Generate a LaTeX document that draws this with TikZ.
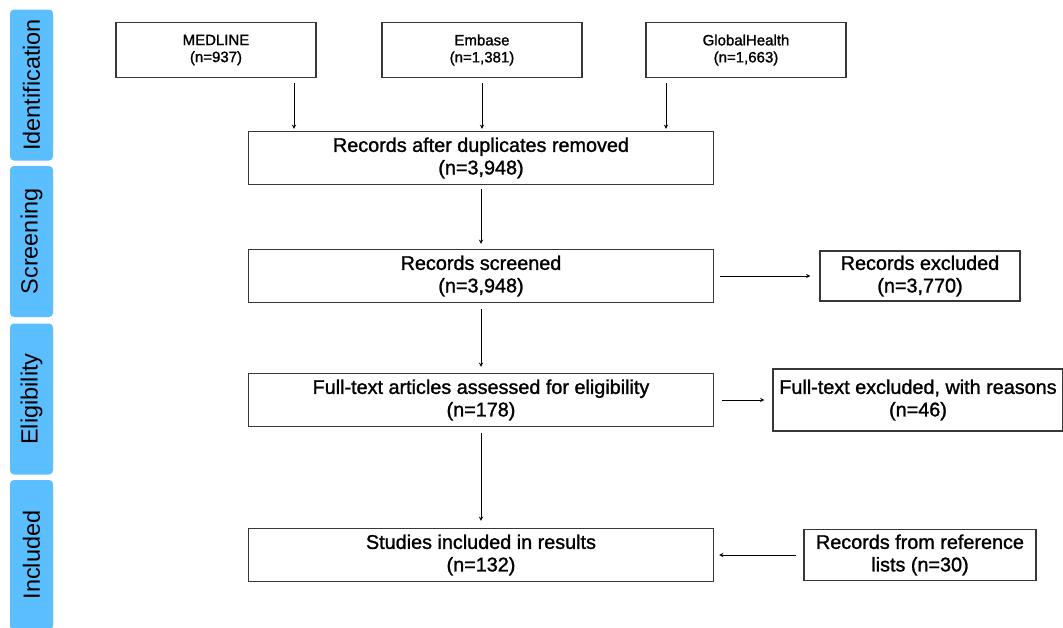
\documentclass[tikz,border=0pt]{standalone}
\usepackage{fontspec}
\setmainfont{Liberation Sans}
\newfontfamily\medfont{Liberation Sans}[BoldFont={Liberation Sans}, BoldFeatures={FakeBold=1.3}]
\usepackage{tikz}
\usetikzlibrary{positioning}

\definecolor{phaseblue}{RGB}{91,190,255}
\definecolor{boxline}{RGB}{55,55,55}

\tikzset{
    phase/.style={rectangle, rounded corners=4pt, fill=phaseblue, rotate=90,
        minimum height=43pt, inner sep=0pt, font=\fontsize{23.5}{26}\selectfont},
    srcbox/.style={rectangle, draw=boxline, line width=1.3pt, minimum width=200pt,
        minimum height=55pt, align=center, font=\medfont\bfseries\fontsize{15}{17}\selectfont},
    mainbox/.style={rectangle, draw=boxline, line width=1.3pt, minimum width=465pt,
        minimum height=53pt, align=center, font=\medfont\bfseries\fontsize{19.8}{22.5}\selectfont},
    sidebox/.style={mainbox, minimum width=200pt},
    line/.style={->, line width=0.9pt}
}

\begin{document}
\begin{tikzpicture}[x=1pt, y=-1pt, >=stealth]
    \useasboundingbox (0,0) rectangle (1063,627);

    % phase labels
    \node[phase, minimum width=151pt] (ident) at (31.5,85) {Identification};
    \node[phase, minimum width=151pt] (scr) at (31.5,241.5) {Screening};
    \node[phase, minimum width=151pt] (elig) at (31.5,399) {Eligibility};
    \node[phase, minimum width=150pt] (incl) at (31.5,555) {Included};

    % databases
    \node[srcbox] (medline) at (216,50) {MEDLINE\\(n=937)};
    \node[srcbox] (embase) at (482,50) {Embase\\(n=1,381)};
    \node[srcbox] (globh) at (746,50) {GlobalHealth\\(n=1,663)};

    % main column
    \node[mainbox] (dup) at (481,158) {Records after duplicates removed\\(n=3,948)};
    \node[mainbox, below of=dup, node distance=118pt] (screened) {Records screened\\(n=3,948)};
    \node[mainbox, below of=screened, node distance=124pt] (fulltext) {Full-text articles assessed for eligibility\\(n=178)};
    \node[mainbox, below of=fulltext, node distance=155pt] (studies) {Studies included in results\\(n=132)};

    % side boxes
    \node[sidebox, minimum height=50pt, right of=screened, node distance=439pt] (recexcl) {Records excluded\\(n=3,770)};
    \node[sidebox, minimum width=290pt, minimum height=62pt, right of=fulltext, node distance=437pt] (ftexcl) {Full-text excluded, with reasons\\(n=46)};
    \node[sidebox, minimum width=232pt, minimum height=51pt, right of=studies, node distance=439pt] (reflist) {Records from reference\\lists (n=30)};

    \draw[line] ([xshift=78pt,yshift=-5pt]medline.south) -- ([xshift=78pt,yshift=2pt]medline.south |- dup.north);
    \draw[line, shorten <=5pt, shorten >=2pt] (embase) -- (embase |- dup.north);
    \draw[line] ([xshift=-80pt,yshift=-5pt]globh.south) -- ([xshift=-80pt,yshift=2pt]globh.south |- dup.north);
    \draw[line, shorten <=4pt, shorten >=5pt] (dup) -- (screened);
    \draw[line, shorten <=6pt, shorten >=9pt] (screened) -- (recexcl);
    \draw[line, shorten <=6pt, shorten >=6pt] (screened) -- (fulltext);
    \draw[line, shorten <=8pt, shorten >=8pt] (fulltext) -- (ftexcl);
    \draw[line, shorten <=6pt, shorten >=7pt] (fulltext) -- (studies);
    \draw[line, shorten <=7pt, shorten >=5pt] (reflist) -- (studies);
\end{tikzpicture}
\end{document}
